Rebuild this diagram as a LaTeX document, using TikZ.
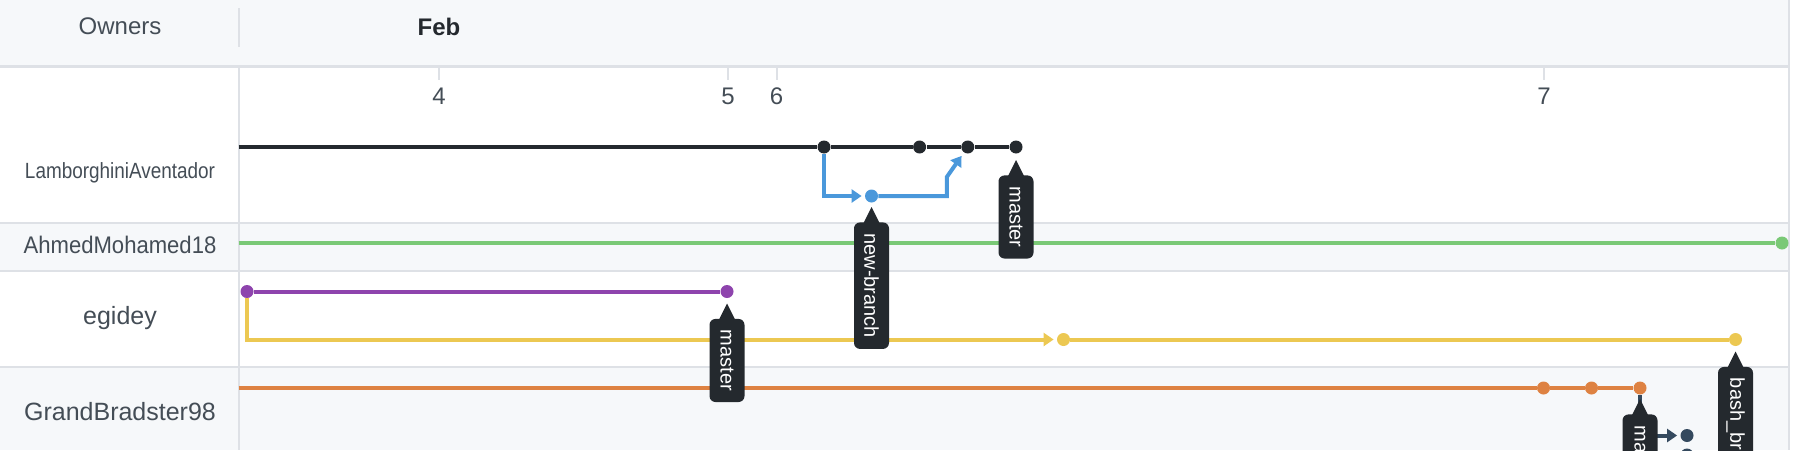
\documentclass[tikz,border=0pt]{standalone}
\usepackage{fontspec}
\setmainfont{Liberation Sans}
\usetikzlibrary{arrows.meta, positioning, calc}
\definecolor{ghgray}{RGB}{246,248,250}
\definecolor{ghline}{RGB}{222,225,230}
\definecolor{ghtext}{RGB}{68,77,86}
\definecolor{ghdark}{RGB}{36,41,46}
\definecolor{commitblue}{RGB}{74,152,219}
\definecolor{commitgreen}{RGB}{122,201,118}
\definecolor{commitpurple}{RGB}{142,68,173}
\definecolor{commityellow}{RGB}{236,200,82}
\definecolor{commitorange}{RGB}{222,130,66}
\definecolor{commitnavy}{RGB}{52,73,94}

\begin{document}
\begin{tikzpicture}[
  x=0.5pt, y=-0.5pt,
  owner/.style={font=\fontsize{12}{14}\selectfont, text=ghtext},
  day/.style={font=\fontsize{12}{14}\selectfont, text=ghtext},
  grid/.style={draw=ghline, line width=1pt},
  branch/.style={line width=2pt, draw=#1},
  commit/.style={circle, fill=#1, inner sep=0pt, minimum size=6.5pt},
  reftag/.style={fill=ghdark, text=white, rounded corners=3pt, rotate=-90, anchor=west, font=\fontsize{10}{12}\selectfont, inner xsep=5.5pt, inner ysep=0pt, minimum height=17.5pt},
  tip/.style={-{Triangle[length=5pt, width=6.5pt]}, shorten >=1.5pt},
]
\useasboundingbox (0,0) rectangle (1798,450);
\clip (0,0) rectangle (1798,450);

% Rows
\fill[ghgray] (0,0) rectangle (1789,66.5);
\fill[ghgray] (0,222.5) rectangle (1789,270.6);
\fill[ghgray] (0,367) rectangle (1789,450);
\draw[grid, line width=1.3pt] (0,66.5) -- (1789,66.5);
\draw[grid] (0,222.5) -- (1789,222.5);
\draw[grid] (0,270.6) -- (1789,270.6);
\draw[grid] (0,367) -- (1789,367);
\draw[grid] (238.5,8) -- (238.5,47);
\draw[grid] (238.5,66.5) -- (238.5,450);
\draw[grid] (1789,0) -- (1789,450);

% Header
\node[owner] (owners) at (120,26) {Owners};
\node[owner, text=ghdark, font=\fontsize{12}{14}\selectfont\bfseries] (feb) at (439,27) {Feb};
\foreach \d/\xx in {4/439, 5/728, 6/776.5, 7/1544}{
  \draw[grid] (\xx,67) -- (\xx,80);
  \node[day] (day\d) at (\xx,96) {\d};
}

% Owners
\node[owner] (lambo) at (120,173) {\fontsize{11}{13}\selectfont\scalebox{0.86}[1]{LamborghiniAventador}};
\node[owner] (ahmed) at (120,245) {\scalebox{0.92}[1]{AhmedMohamed18}};
\node[owner, font=\fontsize{12.5}{14}\selectfont] (egidey) at (120,318) {egidey};
\node[owner, font=\fontsize{12.5}{14}\selectfont] (grand) at (120,412) {GrandBradster98};

% Commits
\coordinate (la0) at (238.5,147);
\node[commit=ghdark] (b1) at (824,147) {};
\node[commit=ghdark] (b2) at (919.6,147) {};
\node[commit=ghdark] (b3) at (967.8,147) {};
\node[commit=ghdark] (b4) at (1016,147) {};
\node[commit=commitblue] (n1) at (871.5,196) {};
\coordinate (am0) at (238.5,243);
\node[commit=commitgreen] (g1) at (1782,243) {};
\node[commit=commitpurple] (p1) at (247,291.5) {};
\node[commit=commitpurple] (p2) at (727,291.5) {};
\node[commit=commityellow] (y1) at (1063.5,339.5) {};
\node[commit=commityellow] (y2) at (1735.5,339.5) {};
\coordinate (gb0) at (238.5,388);
\node[commit=commitorange] (o1) at (1543.5,388) {};
\node[commit=commitorange] (o2) at (1591.5,388) {};
\node[commit=commitorange] (o3) at (1640,388) {};
\node[commit=commitnavy] (m1) at (1687,435.5) {};
\node[commit=commitnavy] (m2) at (1687,455) {};

% Branch lines
\draw[branch=ghdark] (la0) -- (b1) -- (b2) -- (b3) -- (b4);
\draw[branch=commitblue, tip] (b1) |- (n1);
\draw[branch=commitblue, tip, shorten >=2pt] (n1) -| ($(b3)+(-21,30)$) -- (b3);
\draw[branch=commitgreen] (am0) -- (g1);
\draw[branch=commitpurple] (p1) -- (p2);
\draw[branch=commityellow, tip] (p1) |- (y1);
\draw[branch=commityellow] (y1) -- (y2);
\draw[branch=commitorange] (gb0) -- (o1) -- (o2) -- (o3);
\draw[branch=commitnavy, tip] (o3) |- (m1);

% Ref tags
\node[reftag] (tagnb) at ($(n1)+(0,26)$) {new-branch};
\node[reftag] (tagm1) at ($(b4)+(0,28)$) {master};
\node[reftag] (tagm2) at ($(p2)+(0,27)$) {master};
\node[reftag, text width=40pt, align=left] (tagm3) at ($(o3)+(0,26)$) {ma};
\node[reftag, text width=40pt, align=left] (tagbb) at ($(y2)+(0,27)$) {bash\_br};
\foreach \tg in {tagnb, tagm1, tagm2, tagm3, tagbb}{
  \fill[ghdark] ($(\tg.west)+(-8,1)$) -- ($(\tg.west)+(0,-15)$) -- ($(\tg.west)+(8,1)$) -- cycle;
}
\end{tikzpicture}
\end{document}
